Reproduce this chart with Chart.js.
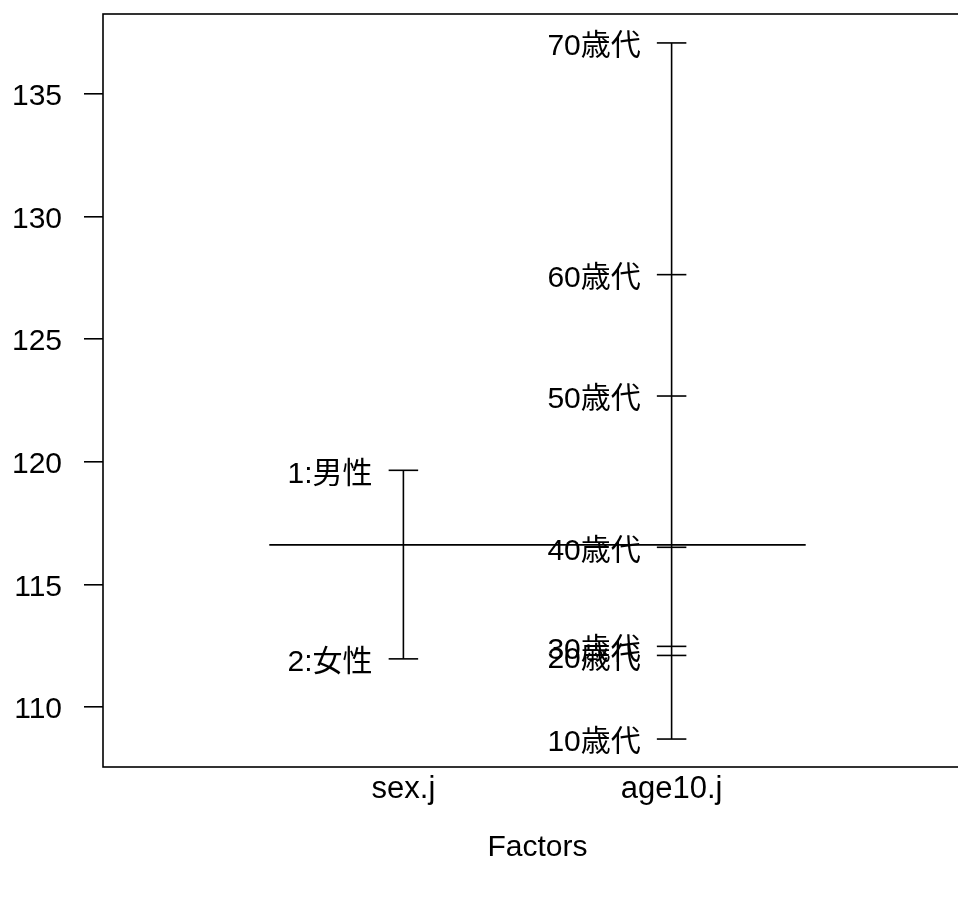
<!DOCTYPE html>
<html>
<head>
<meta charset="utf-8">
<script src="https://cdn.jsdelivr.net/npm/chart.js@4"></script>
<style>
  html, body { margin: 0; padding: 0; background: #fff; overflow: hidden; }
  #wrap { position: absolute; left: 0; top: 0; width: 1000px; height: 918px; }
</style>
</head>
<body>
<div id="wrap"><canvas id="chart"></canvas></div>
<script>
// ── DATA ──
const factorNames = ['sex.j', 'age10.j'];
const sexLevels   = ['1:男性', '2:女性'];
const sexMeans    = [119.65, 111.96];
const ageLevels   = ['10歳代', '20歳代', '30歳代', '40歳代', '50歳代', '60歳代', '70歳代'];
const ageMeans    = [108.69, 112.10, 112.47, 116.51, 122.68, 127.63, 137.08];
const grandMean   = 116.61;
const yTicks      = [110, 115, 120, 125, 130, 135];

const FONT = "'Liberation Sans', Arial, 'Noto Sans CJK JP', sans-serif";
const factors = [
  { x: 1, levels: sexLevels, means: sexMeans },
  { x: 2, levels: ageLevels, means: ageMeans }
];

// ── LINE STYLE HELPER ──
function seg(data) {
  return {
    data,
    showLine: true,
    borderColor: '#000',
    borderWidth: 1.6,
    pointRadius: 0,
    fill: false
  };
}

const datasets = [seg([{ x: 0.5, y: grandMean }, { x: 2.5, y: grandMean }])];
factors.forEach(f => {
  datasets.push(seg([{ x: f.x, y: Math.min(...f.means) }, { x: f.x, y: Math.max(...f.means) }]));
  f.means.forEach(m => datasets.push(seg([{ x: f.x - 0.055, y: m }, { x: f.x + 0.055, y: m }])));
});

// ── PLUGINS: frame + level labels ──
const framePlugin = {
  id: 'frame',
  afterDraw(chart) {
    const { ctx, chartArea: a } = chart;
    ctx.save();
    ctx.strokeStyle = '#000';
    ctx.lineWidth = 1.6;
    ctx.strokeRect(a.left, a.top, a.right - a.left, a.bottom - a.top);
    ctx.restore();
  }
};

const levelLabels = {
  id: 'levelLabels',
  afterDatasetsDraw(chart) {
    const { ctx, scales } = chart;
    ctx.save();
    ctx.fillStyle = '#000';
    ctx.font = `30px ${FONT}`;
    ctx.textAlign = 'right';
    ctx.textBaseline = 'middle';
    factors.forEach(f => {
      f.levels.forEach((lab, i) => {
        ctx.fillText(lab, scales.x.getPixelForValue(f.x - 0.115), scales.y.getPixelForValue(f.means[i]) + 4);
      });
    });
    ctx.restore();
  }
};

new Chart(document.getElementById('chart'), {
  type: 'scatter',
  data: { datasets },
  plugins: [framePlugin, levelLabels],
  options: {
    animation: false,
    responsive: true,
    maintainAspectRatio: false,
    devicePixelRatio: 1,
    layout: { autoPadding: false, padding: { top: 14, left: 0, right: 28, bottom: 0 } },
    plugins: { legend: { display: false }, tooltip: { enabled: false } },
    scales: {
      x: {
        type: 'linear',
        min: -0.12,
        max: 3.12,
        afterBuildTicks: s => { s.ticks = factorNames.map((_, i) => ({ value: i + 1 })); },
        afterFit: s => { s.height = 151; s.paddingLeft = 0; s.paddingRight = 0; },
        grid: { display: false },
        border: { display: false },
        ticks: {
          color: '#000',
          padding: -4,
          maxRotation: 0,
          autoSkip: false,
          font: { family: FONT, size: 31 },
          callback: v => factorNames[v - 1]
        },
        title: {
          display: true,
          text: 'Factors',
          color: '#000',
          font: { family: FONT, size: 30 },
          padding: { top: 52, bottom: 52 }
        }
      },
      y: {
        min: 107.55,
        max: 138.26,
        afterBuildTicks: s => { s.ticks = yTicks.map(v => ({ value: v })); },
        afterFit: s => { s.width = 103; s.paddingTop = 0; s.paddingBottom = 0; },
        grid: { drawOnChartArea: false, tickLength: 19, color: '#000', lineWidth: 1.6 },
        border: { display: false },
        ticks: {
          color: '#000',
          padding: 22,
          labelOffset: 3,
          font: { family: FONT, size: 30 }
        }
      }
    }
  }
});
</script>
</body>
</html>
